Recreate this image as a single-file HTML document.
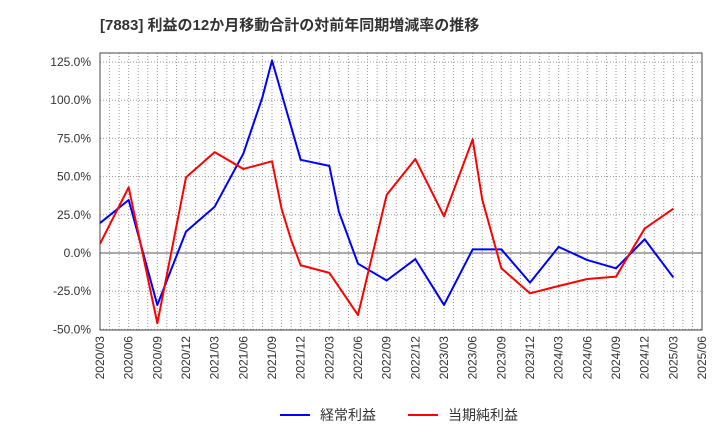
<!DOCTYPE html>
<html><head><meta charset="utf-8"><style>
body{margin:0;background:#fff;}
text{font-family:"Liberation Sans","Noto Sans CJK JP",sans-serif;}
</style></head><body>
<svg id="c" width="720" height="440" xmlns="http://www.w3.org/2000/svg">
<text x="100" y="30" font-size="15" font-weight="bold" fill="#333">[7883]  利益の12か月移動合計の対前年同期増減率の推移</text>
<g id="grid"></g><g id="axes"></g><g id="series"></g>
<g>
<line x1="280" y1="415" x2="310" y2="415" stroke="#0000ff" stroke-width="2"/>
<text x="320" y="420" font-size="14" fill="#333">経常利益</text>
<line x1="408" y1="415" x2="438" y2="415" stroke="#ff0000" stroke-width="2"/>
<text x="448" y="420" font-size="14" fill="#333">当期純利益</text>
</g>
</svg>
<script>
const xTickLabels=["2020/03","2020/06","2020/09","2020/12","2021/03","2021/06","2021/09","2021/12","2022/03","2022/06","2022/09","2022/12","2023/03","2023/06","2023/09","2023/12","2024/03","2024/06","2024/09","2024/12","2025/03","2025/06"];
const yTicks=[-50,-25,0,25,50,75,100,125];
const ordinaryMonths=[0,3,6,9,12,15,17,18,21,24,25,27,30,33,36,39,42,45,48,51,54,57,60];
const ordinaryValues=[19.6,34.7,-34,14,30.3,65,102,126,61,57,27,-7,-18,-4,-34,2.4,2.4,-19.4,4,-4.6,-10,9,-16];
const netMonths=[0,3,6,9,12,15,18,19,20,21,24,27,30,33,36,39,40,42,45,48,51,54,57,60];
const netValues=[6,43,-46,49.5,66,55,60,29,8.5,-8,-13,-40.6,38,61.5,24,74.4,35,-10,-26.4,-21.6,-17,-15.5,16,29];
const L=100,R=702,T=53,B=330,NM=63;
const xs=m=>L+m*(R-L)/NM;
const ys=v=>253-v*(253-62)/125;
const NS="http://www.w3.org/2000/svg";
function mk(tag,attrs,parent){const e=document.createElementNS(NS,tag);for(const k in attrs)e.setAttribute(k,attrs[k]);parent.appendChild(e);return e;}
const grid=document.getElementById('grid'),axes=document.getElementById('axes'),series=document.getElementById('series');
for(let m=1;m<NM;m++){const l=mk('line',{x1:xs(m),x2:xs(m),y1:T,y2:B,stroke:'#999','stroke-dasharray':'1,2','stroke-width':1},grid);

}
yTicks.forEach(v=>{const y=ys(v);
const l=mk('line',{x1:L,x2:R,y1:y,y2:y,stroke:v===0?'#555':'#999','stroke-dasharray':v===0?'':'1,2','stroke-width':1},grid);


const t=mk('text',{x:L-9,y:y+4,'text-anchor':'end','font-size':12,fill:'#333'},axes);t.textContent=v.toFixed(1)+'%';

});
xTickLabels.forEach((s,i)=>{const x=xs(i*3);
const t=mk('text',{x:x+4,y:B+6,'text-anchor':'end','font-size':12,fill:'#333',transform:`rotate(-90 ${x+4} ${B+6})`},axes);t.textContent=s;

});
const fr=mk('rect',{x:L,y:T,width:R-L,height:B-T,fill:'none',stroke:'#444','stroke-width':1},axes);


function line(ms,vs,col,name){const p=mk('polyline',{points:ms.map((m,i)=>xs(m)+','+ys(vs[i])).join(' '),fill:'none',stroke:col,'stroke-width':2,'stroke-linejoin':'round'},series);

}
line(ordinaryMonths,ordinaryValues,'#0000ff','ordinary-profit-line');
line(netMonths,netValues,'#ff0000','net-profit-line');
</script>
</body></html>
